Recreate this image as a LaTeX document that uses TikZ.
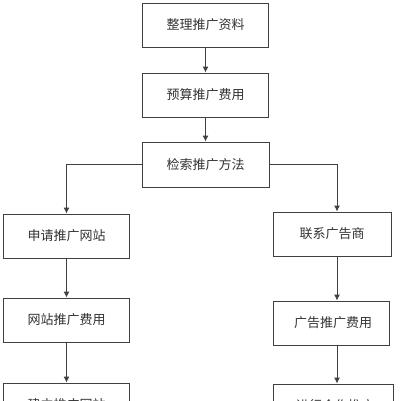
\documentclass[tikz,border=0pt]{standalone}
\usepackage{fontspec}
\newfontfamily\cjk{Noto Sans CJK SC}
\usetikzlibrary{arrows.meta}
\begin{document}
\begin{tikzpicture}[x=1pt,y=-1pt,
  box/.style={draw=black!75,line width=0.9pt,fill=white,inner sep=0pt,font=\cjk\fontsize{13}{15}\selectfont,text=black!80},
  arr/.style={draw=black!75,line width=0.9pt,-{Latex[length=6pt,width=6pt]}}]
\clip (0,0) rectangle (403,400);
\fill[white] (0,0) rectangle (403,400);
\node[box,minimum width=126pt,minimum height=44pt] (a) at (205.5,25) {整理推广资料};
\node[box,minimum width=126pt,minimum height=44pt] (b) at (205.5,95) {预算推广费用};
\node[box,minimum width=127pt,minimum height=45pt] (c) at (205.5,164.5) {检索推广方法};
\node[box,minimum width=126pt,minimum height=44pt] (l1) at (66.5,236) {申请推广网站};
\node[box,minimum width=126pt,minimum height=44pt] (l2) at (66.5,320) {网站推广费用};
\node[box,minimum width=126pt,minimum height=44pt] (l3) at (66.5,405) {建立推广网站};
\node[box,minimum width=118pt,minimum height=44pt] (r1) at (332,234) {联系广告商};
\node[box,minimum width=116pt,minimum height=44pt] (r2) at (331,323) {\hspace*{4pt}广告推广费用};
\node[box,minimum width=120pt,minimum height=44pt] (r3) at (333,406) {\hspace*{4pt}进行合作推广};
\coordinate (rx) at (337,0);
\draw[arr] (a) -- (b);
\draw[arr] (b) -- (c);
\draw[arr] (c.west) -| (l1.north);
\draw[arr] (c.east) -| (rx |- r1.north);
\draw[arr] (l1) -- (l2);
\draw[arr] (l2) -- (l3);
\draw[arr] (rx |- r1.south) -- (rx |- r2.north);
\draw[arr] (rx |- r2.south) -- (rx |- r3.north);
\end{tikzpicture}
\end{document}
